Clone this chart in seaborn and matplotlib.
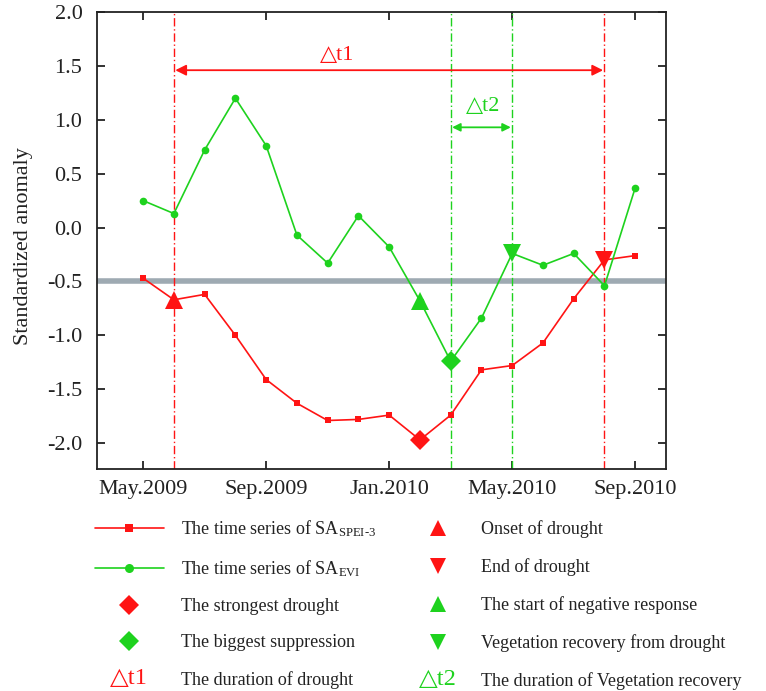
import numpy as np
import pandas as pd
import matplotlib
matplotlib.use("Agg")
import matplotlib.pyplot as plt
import seaborn as sns
from matplotlib.lines import Line2D
from matplotlib.legend_handler import HandlerBase
from matplotlib.text import Text

# ---------------- data ----------------
months = ["May.2009", "Jun.2009", "Jul.2009", "Aug.2009", "Sep.2009", "Oct.2009",
          "Nov.2009", "Dec.2009", "Jan.2010", "Feb.2010", "Mar.2010", "Apr.2010",
          "May.2010", "Jun.2010", "Jul.2010", "Aug.2010", "Sep.2010"]
sa_spei3 = [-0.47, -0.67, -0.62, -1.00, -1.41, -1.63, -1.79, -1.78, -1.74, -1.97,
            -1.74, -1.32, -1.28, -1.07, -0.66, -0.30, -0.26]
sa_evi = [0.25, 0.13, 0.72, 1.20, 0.76, -0.07, -0.33, 0.11, -0.18, -0.68,
          -1.24, -0.84, -0.24, -0.35, -0.24, -0.54, 0.37]
tick_idx = [0, 4, 8, 12, 16]
tick_labels = ["May.2009", "Sep.2009", "Jan.2010", "May.2010", "Sep.2010"]
threshold = -0.5
onset_idx, end_idx = 1, 15          # drought onset / end (SPEI)
strongest_idx = 9                   # strongest drought (SPEI)
neg_start_idx, biggest_idx, recovery_idx = 9, 10, 12   # EVI response
dt1_y, dt2_y = 1.46, 0.93

RED = "#ff1414"
GREEN = "#1ed21e"
GRAY = "#9eaab2"
TXT = "#222222"

df = pd.DataFrame({"i": np.arange(len(months)), "month": months,
                   "spei": sa_spei3, "evi": sa_evi})

sns.set_theme(style="ticks")
plt.rcParams["font.family"] = ["Liberation Serif", "DejaVu Sans"]
plt.rcParams["mathtext.fontset"] = "custom"
plt.rcParams["mathtext.rm"] = "Liberation Serif"
plt.rcParams["mathtext.it"] = "Liberation Serif:italic"
plt.rcParams["axes.unicode_minus"] = False

fig = plt.figure(figsize=(7.66, 6.91), dpi=100)
ax = fig.add_axes([97/766, 1-469/691, (666-97)/766, (469-12)/691])

ax.axhline(threshold, color=GRAY, lw=4, zorder=1)

sns.lineplot(data=df, x="i", y="spei", color=RED, marker="s", markersize=5,
             markeredgewidth=0, lw=1.2, ax=ax, zorder=3)
sns.lineplot(data=df, x="i", y="evi", color=GREEN, marker="o", markersize=5.5,
             markeredgewidth=0, lw=1.2, ax=ax, zorder=3)

# vertical reference lines
for i, c in [(onset_idx, RED), (end_idx, RED), (biggest_idx, GREEN), (recovery_idx, GREEN)]:
    ax.axvline(df.i[i], color=c, ls=(0, (6, 2, 1, 2)), lw=1.0, zorder=2)

# event markers
ax.plot(df.i[onset_idx], df.spei[onset_idx], "^", color=RED, ms=13, mew=0, zorder=4)
ax.plot(df.i[end_idx], df.spei[end_idx], "v", color=RED, ms=13, mew=0, zorder=4)
ax.plot(df.i[strongest_idx], df.spei[strongest_idx], "D", color=RED, ms=10, mew=0, zorder=4)
ax.plot(df.i[neg_start_idx], df.evi[neg_start_idx], "^", color=GREEN, ms=13, mew=0, zorder=4)
ax.plot(df.i[biggest_idx], df.evi[biggest_idx], "D", color=GREEN, ms=10, mew=0, zorder=4)
ax.plot(df.i[recovery_idx], df.evi[recovery_idx], "v", color=GREEN, ms=13, mew=0, zorder=4)

# duration arrows
ax.annotate("", xy=(df.i[onset_idx], dt1_y), xytext=(df.i[end_idx], dt1_y),
            arrowprops=dict(arrowstyle="<|-|>", color=RED, lw=1.3, shrinkA=1, shrinkB=1,
                            mutation_scale=16))
ax.text(6.3, dt1_y + 0.14, "△t1", color=RED, fontsize=16, ha="center", va="center")
ax.annotate("", xy=(df.i[biggest_idx], dt2_y), xytext=(df.i[recovery_idx], dt2_y),
            arrowprops=dict(arrowstyle="<|-|>", color=GREEN, lw=1.3, shrinkA=1, shrinkB=1,
                            mutation_scale=12))
ax.text(11.05, dt2_y + 0.19, "△t2", color=GREEN, fontsize=16, ha="center", va="center")

ax.set_xlim(-1.5, 17)
ax.set_ylim(-2.24, 2.0)
ax.set_xticks(tick_idx)
ax.set_xticklabels(tick_labels)
ax.set_yticks(np.arange(-2.0, 2.01, 0.5))
ax.set_yticklabels([f"{v:.1f}" for v in np.arange(-2.0, 2.01, 0.5)])
ax.tick_params(direction="in", top=True, right=True, length=6, width=1.3,
               labelsize=16, colors=TXT)
ax.tick_params(axis="y", pad=10.5)
ax.tick_params(axis="x", pad=8)
ax.set_xlabel("")
ax.set_ylabel("Standardized anomaly", fontsize=16, color=TXT, labelpad=10)
ax.yaxis.label.set_y(0.488)
for s in ax.spines.values():
    s.set_linewidth(1.3)
    s.set_color(TXT)


class TextHandler(HandlerBase):
    def __init__(self, text, color):
        super().__init__()
        self.text = text
        self.color = color

    def create_artists(self, legend, orig_handle, xdescent, ydescent, width, height,
                       fontsize, trans):
        t = Text(x=width/2 - xdescent, y=height/2 - ydescent, text=self.text,
                 color=self.color, fontsize=fontsize*1.35, ha="center", va="center",
                 transform=trans, family=["Liberation Serif", "DejaVu Sans"])
        return [t]


h_dt1 = Line2D([], [])
h_dt2 = Line2D([], [])
left_handles = [
    Line2D([], [], color=RED, marker="s", ms=6, mew=0, lw=1.2),
    Line2D([], [], color=GREEN, marker="o", ms=6.5, mew=0, lw=1.2),
    Line2D([], [], color=RED, marker="D", ms=10, mew=0, lw=0),
    Line2D([], [], color=GREEN, marker="D", ms=10, mew=0, lw=0),
    h_dt1,
]
left_labels = [r"The time series of SA$_{\mathrm{SPEI\text{-}3}}$",
               r"The time series of SA$_{\mathrm{EVI}}$",
               "The strongest drought", "The biggest suppression",
               "The duration of drought"]
right_handles = [
    Line2D([], [], color=RED, marker="^", ms=12, mew=0, lw=0),
    Line2D([], [], color=RED, marker="v", ms=12, mew=0, lw=0),
    Line2D([], [], color=GREEN, marker="^", ms=12, mew=0, lw=0),
    Line2D([], [], color=GREEN, marker="v", ms=12, mew=0, lw=0),
    h_dt2,
]
right_labels = ["Onset of drought", "End of drought", "The start of negative response",
                "Vegetation recovery from drought", "The duration of Vegetation recovery"]

common = dict(frameon=False, borderpad=0, borderaxespad=0, fontsize=13,
              numpoints=1, labelcolor=TXT)
leg1 = fig.legend(left_handles, left_labels, loc="upper left",
                  bbox_to_anchor=(95/766, 1-518/691), handlelength=3.8,
                  handletextpad=0.95, labelspacing=1.07,
                  handler_map={h_dt1: TextHandler("△t1", RED)}, **common)
leg2 = fig.legend(right_handles, right_labels, loc="upper left",
                  bbox_to_anchor=(420/766, 1-520/691), handlelength=2.0,
                  handletextpad=1.38, labelspacing=1.12,
                  handler_map={h_dt2: TextHandler("△t2", GREEN)}, **common)

fig.savefig("out.png", dpi=100)
